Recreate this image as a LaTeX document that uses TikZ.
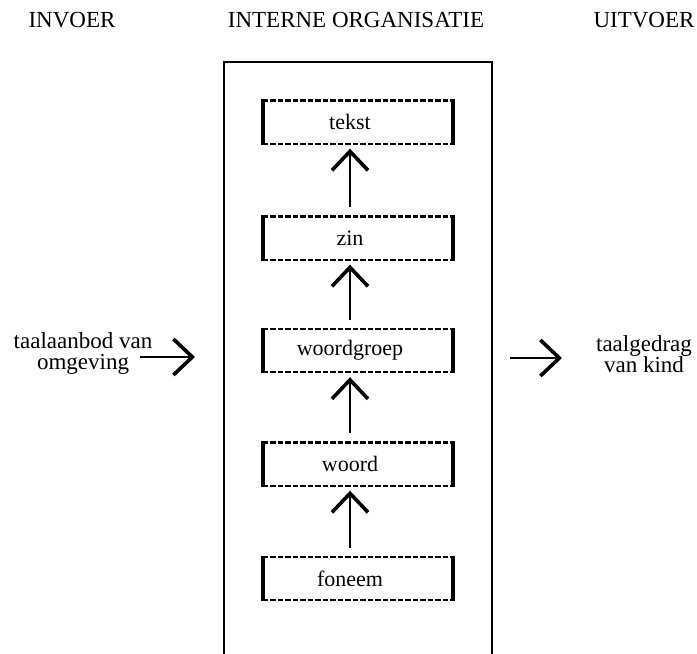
\documentclass[tikz,border=0pt]{standalone}
\usepackage{fontspec}
\setmainfont{Liberation Serif}
\usetikzlibrary{arrows.meta}
\tikzset{
  lvl/.style={draw=none, minimum width=190pt, minimum height=43pt, inner sep=0pt},
  lbl/.style={font=\fontsize{22}{21}\selectfont, inner sep=0pt, align=center},
  sidelbl/.style={font=\fontsize{23}{21}\selectfont, inner sep=0pt, align=center},
  ttl/.style={font=\fontsize{23}{24}\selectfont, inner sep=0pt},
  dline/.style={line width=2.4pt, dash pattern=on 5.5pt off 2pt},
  sideline/.style={line width=4pt},
  outerline/.style={line width=2.8pt, line join=miter},
  uparrow/.style={line width=2.6pt, -{Straight Barb[length=19pt, width=36pt, line width=3.6pt]}},
}
\newcommand{\lvlbox}[3]{%
  \node[lvl] (#1) at (358,#2) {};
  \node[lbl] (#1-t) at (350,#2) {#3};
  \draw[dline] (#1.north west) -- (#1.north east);
  \draw[dline] (#1.south west) -- (#1.south east);
  \draw[sideline] ([yshift=1pt]#1.north west) -- ([yshift=-1pt]#1.south west);
  \draw[sideline] ([yshift=1pt]#1.north east) -- ([yshift=-1pt]#1.south east);
}
\begin{document}
\begin{tikzpicture}[x=1pt, y=-1pt]
\useasboundingbox (0,0) rectangle (697,654);
% titles
\node[ttl] (invoer) at (72,20) {INVOER};
\node[ttl] (intern) at (356,20) {INTERNE ORGANISATIE};
\node[ttl] (uitvoer) at (644,20) {UITVOER};
% outer box (open at bottom)
\coordinate (obl) at (224,656);
\coordinate (otr) at (492,62);
\coordinate (obr) at (492,656);
\draw[outerline] (obl) |- (otr) -- (obr);
% levels
\lvlbox{tekst}{122}{tekst}
\lvlbox{zin}{238}{zin}
\lvlbox{woordgroep}{350.5}{woordgroep}
\lvlbox{woord}{464}{woord}
\lvlbox{foneem}{578.5}{foneem}
% up arrows
\draw[uparrow, shorten <=9pt, shorten >=5pt] (zin-t |- zin.north) -- (zin-t |- tekst.south);
\draw[uparrow, shorten <=9pt, shorten >=5pt] (woordgroep-t |- woordgroep.north) -- (woordgroep-t |- zin.south);
\draw[uparrow, shorten <=9pt, shorten >=5pt] (woord-t |- woord.north) -- (woord-t |- woordgroep.south);
\draw[uparrow, shorten <=9pt, shorten >=5pt] (foneem-t |- foneem.north) -- (foneem-t |- woord.south);
% input / output
\node[sidelbl] (in) at (83,353) {taalaanbod van\\omgeving};
\node[sidelbl] (out) at (644,354) {taalgedrag\\van kind};
\coordinate (inA) at (140,357);
\coordinate (inB) at (195,357);
\coordinate (outA) at (510,358);
\coordinate (outB) at (562,358);
\draw[uparrow] (inA) -- (inB);
\draw[uparrow] (outA) -- (outB);
\end{tikzpicture}
\end{document}
